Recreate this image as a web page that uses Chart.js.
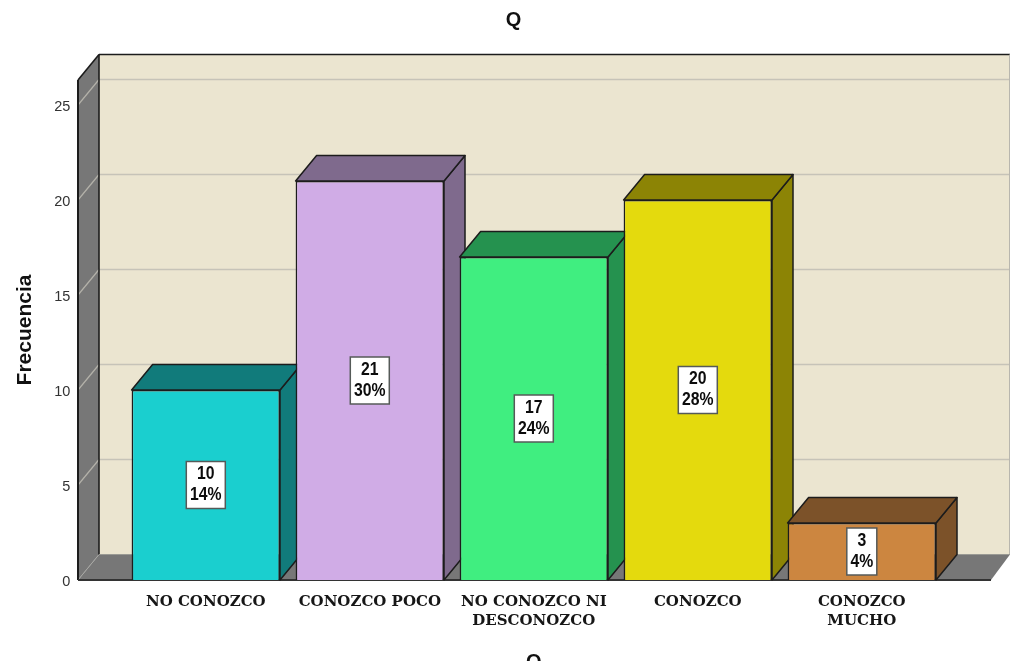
<!DOCTYPE html>
<html><head><meta charset="utf-8">
<style>html,body{margin:0;padding:0;background:#fff;overflow:hidden;width:1010px;height:666px}#w{width:1010px;height:661px;overflow:hidden;position:relative}</style>
<script src="https://cdn.jsdelivr.net/npm/chart.js@4"></script>
</head><body><div id="w"><canvas id="c" width="1010" height="700"></canvas></div>
<script>
const chartTitle = 'Q';
const categories = [['NO CONOZCO'],['CONOZCO POCO'],['NO CONOZCO NI','DESCONOZCO'],['CONOZCO'],['CONOZCO','MUCHO']];
const counts = [10,21,17,20,3];
const percents = ['14%','30%','24%','28%','4%'];
const faceColors = ['#1acfcf','#d0ace6','#40ee80','#e4da0d','#cc8640'];
const sideColors = ['#117b7b','#7f6a8d','#25924f','#8c8405','#7c5229'];
const yTicks = [0,5,10,15,20,25];
const yMax = 26.316;

const DX = 21, DY = -25.5;      // depth of the 3D projection
const EDGE = '#1c1c1c';

function poly(ctx, pts, fill, stroke, lw){
  ctx.beginPath();
  pts.forEach((p,i)=> i?ctx.lineTo(p[0],p[1]):ctx.moveTo(p[0],p[1]));
  ctx.closePath();
  if(fill){ctx.fillStyle=fill;ctx.fill();}
  if(stroke){ctx.strokeStyle=stroke;ctx.lineWidth=lw||1.5;ctx.lineJoin='round';ctx.stroke();}
}
function line(ctx,x1,y1,x2,y2,c,lw){
  ctx.beginPath();ctx.moveTo(x1,y1);ctx.lineTo(x2,y2);ctx.strokeStyle=c;ctx.lineWidth=lw;ctx.stroke();
}
function narrowText(ctx,t,x,y){
  ctx.fillText(t,x,y,ctx.measureText(t).width*0.83);
}

const box3d = {
  id:'box3d',
  beforeDatasetsDraw(chart){
    const ctx=chart.ctx, y=chart.scales.y, x=chart.scales.x;
    const base=y.getPixelForValue(0), top=y.getPixelForValue(yMax);
    const L=x.left-45.8, R=x.right+47.2;
    ctx.save();
    poly(ctx,[[L+DX,top+DY],[1010,top+DY],[1010,base+DY],[L+DX,base+DY]],'#ebe5d0');
    poly(ctx,[[L,top],[L+DX,top+DY],[L+DX,base+DY],[L,base]],'#777777');
    poly(ctx,[[L,base],[L+DX,base+DY],[1010,base+DY],[R,base]],'#777777');
    yTicks.forEach(t=>{
      if(t===0) return;
      const p=y.getPixelForValue(t);
      line(ctx,L,p,L+DX,p+DY,'#b4b2aa',1.2);
      line(ctx,L+DX,p+DY,1010,p+DY,'#c6c3b8',1.5);
    });
    line(ctx,L,base,L+DX,base+DY,'#a8a8a4',1);
    line(ctx,L+DX,top+DY,1010,top+DY,EDGE,1.6);
    line(ctx,L+DX,top+DY,L+DX,base+DY,EDGE,1.6);
    line(ctx,L,top,L+DX,top+DY,EDGE,1.6);
    line(ctx,L,top,L,base,EDGE,2);
    line(ctx,L,base,R,base,'#333333',2);
    line(ctx,1009.5,top+DY,1009.5,base+DY,'#b8b6ae',1);
    line(ctx,L+DX,base+DY,1010,base+DY,'#9a9a94',1);
    chart.getDatasetMeta(0).data.forEach((b,i)=>{
      const l=b.x-b.width/2, r=b.x+b.width/2, t=b.y, bt=b.base;
      poly(ctx,[[r,t],[r+DX,t+DY],[r+DX,bt+DY],[r,bt]],sideColors[i],EDGE,1.5);
      poly(ctx,[[l,t],[l+DX,t+DY],[r+DX,t+DY],[r,t]],sideColors[i],EDGE,1.5);
    });
    ctx.restore();
  },
  afterDatasetsDraw(chart){
    const ctx=chart.ctx, y=chart.scales.y;
    ctx.save();
    ctx.textAlign='center';ctx.textBaseline='middle';
    chart.getDatasetMeta(0).data.forEach((b,i)=>{
      const w = counts[i]<10 ? 30 : 39, h=47;
      const cy=y.getPixelForValue(counts[i]/2);
      ctx.fillStyle='#ffffff';
      ctx.fillRect(b.x-w/2,cy-h/2,w,h);
      ctx.strokeStyle='#555a58';ctx.lineWidth=1.5;
      ctx.strokeRect(b.x-w/2,cy-h/2,w,h);
      ctx.fillStyle='#0c0c0c';
      ctx.font='bold 19px "Liberation Sans"';
      narrowText(ctx,String(counts[i]),b.x,cy-11);
      narrowText(ctx,percents[i],b.x,cy+10);
    });
    ctx.fillStyle='#111111';
    ctx.font='bold 20px "Liberation Sans"';
    ctx.fillText(chartTitle,513.5,20.5);
    ctx.restore();
  }
};

new Chart(document.getElementById('c'),{
  type:'bar',
  data:{labels:categories,datasets:[{data:counts,backgroundColor:faceColors,borderColor:EDGE,borderWidth:1.6,barPercentage:0.905,categoryPercentage:1}]},
  plugins:[box3d],
  options:{
    responsive:false,animation:false,
    layout:{padding:{top:80,right:66.2,left:0,bottom:0}},
    plugins:{legend:{display:false},tooltip:{enabled:false},title:{display:false}},
    scales:{
      x:{
        grid:{display:false},border:{display:false},
        ticks:{color:'#161616',padding:5,maxRotation:0,autoSkip:false,font:{family:'"DejaVu Serif"',size:15,weight:'bold',lineHeight:1.26}},
        title:{display:true,text:'Q',color:'#111111',font:{family:'"Liberation Sans"',size:20,weight:'bold'},padding:{top:0,bottom:26}},
        afterFit(s){s.height=120;}
      },
      y:{
        min:0,max:yMax,
        grid:{display:false},border:{display:false},
        afterBuildTicks(s){s.ticks=yTicks.map(v=>({value:v}));},
        ticks:{color:'#333333',padding:45.5,labelOffset:2,font:{family:'"Liberation Sans"',size:14.5}},
        title:{display:true,text:'Frecuencia',color:'#111111',font:{family:'"Liberation Sans"',size:21,weight:'bold'},padding:{top:13,bottom:0}},
        afterFit(s){s.width=123.8;}
      }
    }
  }
});
</script></body></html>
